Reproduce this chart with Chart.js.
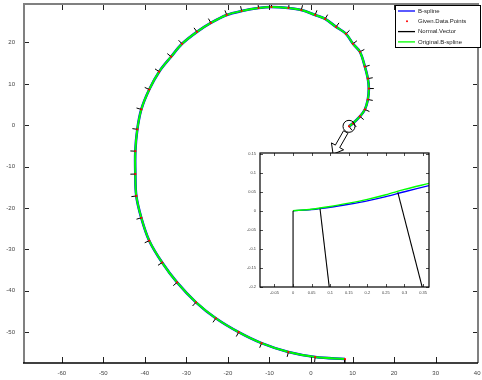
<!DOCTYPE html>
<html>
<head>
<meta charset="utf-8">
<script src="https://cdn.jsdelivr.net/npm/chart.js@4.4.0/dist/chart.umd.min.js"></script>
<style>
  html, body { margin: 0; padding: 0; background: #fff; }
  #wrap { position: relative; width: 482px; height: 380px; }
  #main { position: absolute; left: 0; top: 0; }
  #inset { position: absolute; left: 230px; top: 146px; }
</style>
</head>
<body>
<div id="wrap">
  <canvas id="main" width="482" height="380" style="width:482px;height:380px"></canvas>
  <canvas id="inset" width="204" height="152" style="width:204px;height:152px"></canvas>
</div>
<script>
// given data points along the spiral (start near the zoom circle, end at the bottom)
const pointsX = [9.14, 10.10, 11.77, 12.97, 13.68, 13.92, 13.68, 12.97, 11.77, 10.10, 8.42, 6.03, 3.40, 1.00,
  -2.34, -5.45, -9.52, -12.63, -16.70, -20.29, -24.11, -27.46, -31.05, -33.68, -36.56, -38.95, -40.86, -41.82,
  -42.30, -42.30, -42.06, -40.86, -38.95, -35.84, -32.25, -27.70, -22.92, -17.42, -11.91, -5.45, 1.00, 8.18];
const pointsY = [-0.26, 0.46, 2.14, 3.82, 6.22, 8.87, 11.27, 14.15, 17.76, 19.68, 22.09, 23.77, 25.69, 26.65,
  27.85, 28.33, 28.57, 28.33, 27.61, 26.65, 24.73, 22.57, 19.68, 16.56, 12.95, 8.63, 3.82, -0.99,
  -6.27, -11.80, -17.09, -22.37, -27.90, -33.19, -37.99, -42.80, -46.65, -50.01, -52.66, -54.82, -56.02, -56.50];

const xTicks = [-60, -50, -40, -30, -20, -10, 0, 10, 20, 30, 40];
const yTicks = [-50, -40, -30, -20, -10, 0, 10, 20];
const legendLabels = ['B-spline', 'Given.Data.Points', 'Normal.Vector', 'Original.B-spline'];

// zoomed region (circle) and where the arrow points
const zoomSpot = [9.14, -0.26];
const arrowTip = [5.31, -6.99];

// inset data
const insetX = [0, 0.05, 0.1, 0.15, 0.2, 0.25, 0.3, 0.366];
const insetBlue = [0, 0.003, 0.009, 0.017, 0.026, 0.037, 0.050, 0.066];
const insetGreen = [0, 0.004, 0.011, 0.020, 0.030, 0.042, 0.056, 0.072];
const insetNormalX = [[0, 0], [0.0726, 0.0985], [0.282, 0.35]];
const insetNormalY = [[0, -0.21], [0.005, -0.21], [0.048, -0.21]];
const insetXTicks = [-0.05, 0, 0.05, 0.1, 0.15, 0.2, 0.25, 0.3, 0.35];
const insetYTicks = [-0.2, -0.15, -0.1, -0.05, 0, 0.05, 0.1, 0.15];

const FONT = 'Liberation Sans, Arial, sans-serif';

const curve = pointsX.map((x, i) => ({ x: x, y: pointsY[i] }));

// short outward normal at each given point (direction from neighbouring points)
const normalLen = 1.2;
const normals = [];
for (let i = 0; i < pointsX.length; i++) {
  const a = Math.max(i - 1, 0), b = Math.min(i + 1, pointsX.length - 1);
  const tx = pointsX[b] - pointsX[a], ty = pointsY[b] - pointsY[a];
  const len = Math.hypot(tx, ty);
  normals.push({ x: pointsX[i], y: pointsY[i] });
  normals.push({ x: pointsX[i] + ty / len * normalLen, y: pointsY[i] - tx / len * normalLen });
  normals.push({ x: null, y: null });
}

function tickList(values) {
  return s => { s.ticks = values.map(v => ({ value: v })); };
}

// box with inward ticks, matlab style
const mainFrame = {
  id: 'mainFrame',
  afterDraw(chart) {
    const ctx = chart.ctx;
    const { left, right, top, bottom } = chart.chartArea;
    const xs = chart.scales.x, ys = chart.scales.y;
    ctx.save();
    ctx.strokeStyle = '#222';
    ctx.lineWidth = 1;
    ctx.beginPath();
    xTicks.forEach(v => {
      const px = Math.round(xs.getPixelForValue(v)) + 0.5;
      ctx.moveTo(px, bottom); ctx.lineTo(px, bottom - 6);
      ctx.moveTo(px, top); ctx.lineTo(px, top + 6);
    });
    yTicks.forEach(v => {
      const py = Math.round(ys.getPixelForValue(v)) + 0.5;
      ctx.moveTo(left, py); ctx.lineTo(left + 5, py);
      ctx.moveTo(right, py); ctx.lineTo(right - 5, py);
    });
    ctx.stroke();
    ctx.strokeStyle = '#808080';
    ctx.lineWidth = 2;
    ctx.beginPath();
    ctx.moveTo(left, bottom); ctx.lineTo(left, top);
    ctx.lineTo(right, top); ctx.lineTo(right, bottom);
    ctx.stroke();
    ctx.strokeStyle = '#000';
    ctx.lineWidth = 1.5;
    ctx.beginPath();
    ctx.moveTo(left - 1, bottom); ctx.lineTo(right, bottom);
    ctx.stroke();

    // zoom circle + hollow arrow
    const cx = xs.getPixelForValue(zoomSpot[0]), cy = ys.getPixelForValue(zoomSpot[1]);
    const tx = xs.getPixelForValue(arrowTip[0]), ty = ys.getPixelForValue(arrowTip[1]);
    ctx.lineWidth = 1;
    ctx.strokeStyle = '#000';
    ctx.beginPath();
    ctx.arc(cx, cy, 6, 0, Math.PI * 2);
    ctx.stroke();
    let dx = tx - cx, dy = ty - cy;
    const dl = Math.hypot(dx, dy);
    dx /= dl; dy /= dl;
    const px = -dy, py = dx;
    const sx = cx + dx * 6.5, sy = cy + dy * 6.5;
    const hx = tx - dx * 9, hy = ty - dy * 9;
    ctx.beginPath();
    ctx.moveTo(sx + px * 2.5, sy + py * 2.5);
    ctx.lineTo(hx + px * 2.5, hy + py * 2.5);
    ctx.lineTo(hx + px * 7, hy + py * 7);
    ctx.lineTo(tx, ty);
    ctx.lineTo(hx - px * 7, hy - py * 7);
    ctx.lineTo(hx - px * 2.5, hy - py * 2.5);
    ctx.lineTo(sx - px * 2.5, sy - py * 2.5);
    ctx.closePath();
    ctx.fillStyle = '#fff';
    ctx.fill();
    ctx.stroke();

    // legend box
    const bx = 395.5, by = 5.5, bw = 85, bh = 42;
    ctx.fillStyle = '#fff';
    ctx.fillRect(bx, by, bw, bh);
    ctx.strokeStyle = '#000';
    ctx.strokeRect(bx, by, bw, bh);
    const ds = [chart.data.datasets[3], chart.data.datasets[0], chart.data.datasets[1], chart.data.datasets[2]];
    ctx.font = '6px ' + FONT;
    ctx.textBaseline = 'middle';
    legendLabels.forEach((lab, i) => {
      const ly = 11 + i * 10.3;
      const d = ds[i];
      if (d.showLine === false) {
        ctx.fillStyle = d.backgroundColor;
        ctx.beginPath();
        ctx.arc(407, ly, 1, 0, Math.PI * 2);
        ctx.fill();
      } else {
        ctx.strokeStyle = d.borderColor;
        ctx.lineWidth = 1.3;
        ctx.beginPath();
        ctx.moveTo(398, ly); ctx.lineTo(415, ly);
        ctx.stroke();
      }
      ctx.fillStyle = '#222';
      ctx.fillText(lab, 418, ly);
    });
    ctx.restore();
  }
};

new Chart(document.getElementById('main'), {
  type: 'scatter',
  data: {
    datasets: [
      { label: 'Given.Data.Points', data: curve, showLine: false, pointRadius: 1.1,
        backgroundColor: '#ff0000', borderWidth: 0 },
      { label: 'Normal.Vector', data: normals, showLine: true, borderColor: '#000', borderWidth: 1,
        pointRadius: 0, spanGaps: false },
      { label: 'Original.B-spline', data: curve, showLine: true, borderColor: '#00ff00', borderWidth: 2,
        pointRadius: 0, tension: 0.35 },
      { label: 'B-spline', data: curve, showLine: true, borderColor: '#0000ff', borderWidth: 2.6,
        pointRadius: 0, tension: 0.35 }
    ]
  },
  options: {
    responsive: false,
    animation: false,
    events: [],
    layout: { padding: { left: 0, right: 1, top: 2, bottom: 0 } },
    scales: {
      x: {
        type: 'linear', min: -69.1, max: 40.2,
        grid: { display: false, drawTicks: false }, border: { display: false },
        afterBuildTicks: tickList(xTicks),
        afterFit: s => { s.height = 17; s.paddingLeft = 0; s.paddingRight = 0; },
        ticks: { padding: 7, color: '#444', font: { family: FONT, size: 6 }, maxRotation: 0,
          autoSkip: false, callback: v => String(v) }
      },
      y: {
        type: 'linear', min: -57.46, max: 29.3,
        grid: { display: false, drawTicks: false }, border: { display: false },
        afterBuildTicks: tickList(yTicks),
        afterFit: s => { s.width = 24; s.paddingTop = 0; s.paddingBottom = 0; },
        ticks: { padding: 9, color: '#444', font: { family: FONT, size: 6 },
          autoSkip: false, callback: v => String(v) }
      }
    },
    plugins: { legend: { display: false }, tooltip: { enabled: false } }
  },
  plugins: [mainFrame]
});

// inset
const insetFrame = {
  id: 'insetFrame',
  beforeDraw(chart) {
    const { left, top, width, height } = chart.chartArea;
    chart.ctx.save();
    chart.ctx.fillStyle = '#fff';
    chart.ctx.fillRect(left, top, width, height);
    chart.ctx.restore();
  },
  afterDraw(chart) {
    const ctx = chart.ctx;
    const { left, right, top, bottom } = chart.chartArea;
    const xs = chart.scales.x, ys = chart.scales.y;
    ctx.save();
    ctx.strokeStyle = '#222';
    ctx.lineWidth = 0.8;
    ctx.beginPath();
    insetXTicks.forEach(v => {
      const px = Math.round(xs.getPixelForValue(v)) + 0.5;
      ctx.moveTo(px, bottom); ctx.lineTo(px, bottom - 3);
      ctx.moveTo(px, top); ctx.lineTo(px, top + 3);
    });
    insetYTicks.forEach(v => {
      const py = Math.round(ys.getPixelForValue(v)) + 0.5;
      ctx.moveTo(left, py); ctx.lineTo(left + 3, py);
      ctx.moveTo(right, py); ctx.lineTo(right - 3, py);
    });
    ctx.stroke();
    ctx.strokeStyle = '#000';
    ctx.lineWidth = 1.2;
    ctx.strokeRect(left, top, right - left, bottom - top);
    ctx.restore();
  }
};

const insetDatasets = insetNormalX.map((xs, k) => ({
  data: xs.map((x, j) => ({ x: x, y: insetNormalY[k][j] })),
  showLine: true, borderColor: '#000', borderWidth: 1.1, pointRadius: 0
}));
insetDatasets.push({ data: insetX.map((x, i) => ({ x: x, y: insetGreen[i] })), showLine: true,
  borderColor: '#00ff00', borderWidth: 1.4, pointRadius: 0, tension: 0.3 });
insetDatasets.push({ data: insetX.map((x, i) => ({ x: x, y: insetBlue[i] })), showLine: true,
  borderColor: '#0000ff', borderWidth: 1.4, pointRadius: 0, tension: 0.3 });

new Chart(document.getElementById('inset'), {
  type: 'scatter',
  data: { datasets: insetDatasets },
  options: {
    responsive: false,
    animation: false,
    events: [],
    layout: { padding: { left: 0, right: 5, top: 7, bottom: 0 } },
    scales: {
      x: {
        type: 'linear', min: -0.089, max: 0.366,
        grid: { display: false, drawTicks: false }, border: { display: false },
        afterBuildTicks: tickList(insetXTicks),
        afterFit: s => { s.height = 11; s.paddingLeft = 0; s.paddingRight = 0; },
        ticks: { padding: 3, color: '#444', font: { family: FONT, size: 4 }, maxRotation: 0,
          autoSkip: false, callback: v => String(v) }
      },
      y: {
        type: 'linear', min: -0.201, max: 0.152,
        grid: { display: false, drawTicks: false }, border: { display: false },
        afterBuildTicks: tickList(insetYTicks),
        afterFit: s => { s.width = 30; s.paddingTop = 0; s.paddingBottom = 0; },
        ticks: { padding: 4, color: '#444', font: { family: FONT, size: 4 },
          autoSkip: false, callback: v => String(v) }
      }
    },
    plugins: { legend: { display: false }, tooltip: { enabled: false } }
  },
  plugins: [insetFrame]
});
</script>
</body>
</html>
